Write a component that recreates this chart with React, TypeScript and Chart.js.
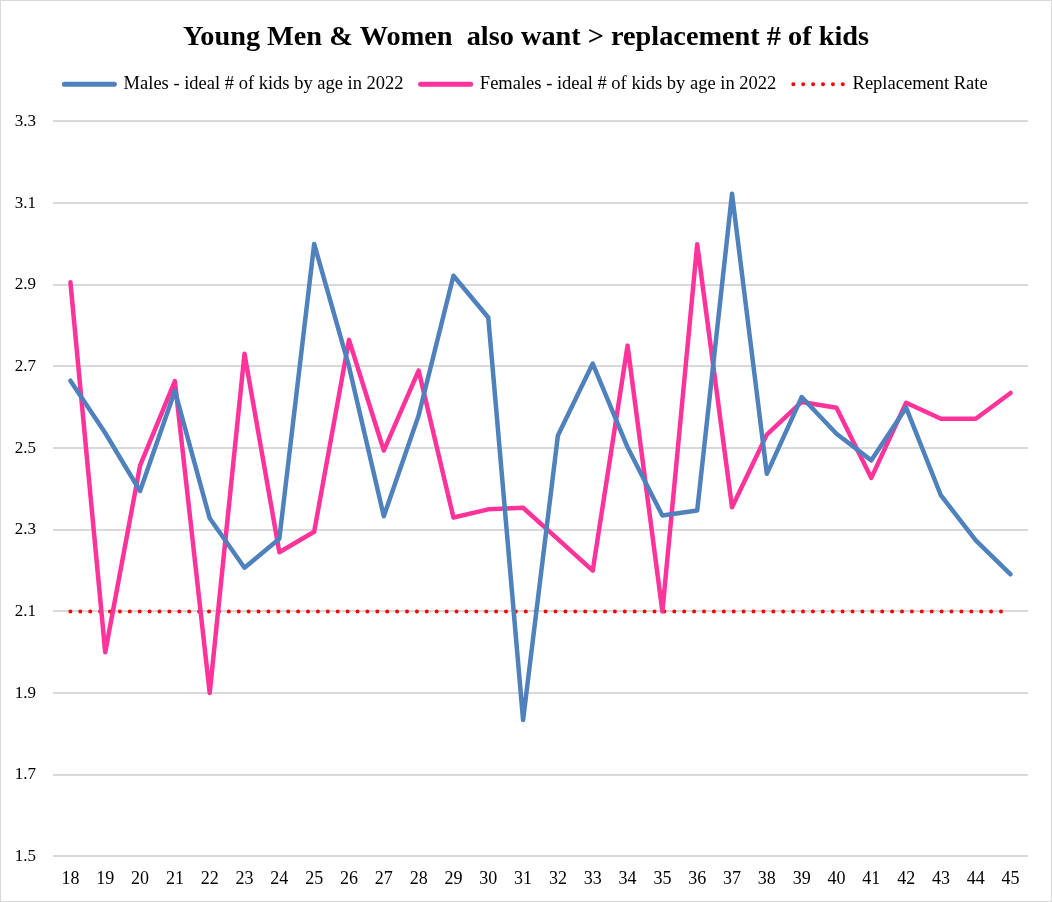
import React, { useEffect, useRef } from "react";
import { Chart, registerables } from "chart.js";

Chart.register(...registerables);

const ages = [
  "18", "19", "20", "21", "22", "23", "24", "25", "26", "27", "28", "29", "30", "31",
  "32", "33", "34", "35", "36", "37", "38", "39", "40", "41", "42", "43", "44", "45",
];

const males = [
  2.665, 2.537, 2.395, 2.64, 2.328, 2.207, 2.278, 3.0, 2.7, 2.333, 2.58, 2.922, 2.82, 1.834,
  2.531, 2.707, 2.502, 2.335, 2.347, 3.123, 2.437, 2.625, 2.535, 2.47, 2.599, 2.384, 2.274, 2.191,
];

const females = [
  2.906, 2.0, 2.457, 2.664, 1.9, 2.731, 2.245, 2.295, 2.765, 2.494, 2.69, 2.33, 2.35, 2.354,
  2.277, 2.2, 2.751, 2.1, 2.999, 2.355, 2.533, 2.613, 2.599, 2.427, 2.611, 2.572, 2.572, 2.635,
];

const replacement = ages.map(() => 2.1);

const seriesLabels = [
  "Males - ideal # of kids by age in 2022",
  "Females - ideal # of kids by age in 2022",
  "Replacement Rate",
];

const seriesColors = ["#4f81bd", "#ff3399", "#ff0000"];

const titleText = "Young Men & Women  also want > replacement # of kids";

const yMin = 1.5;
const yMax = 3.3;
const yStep = 0.2;

const FONT = "'Liberation Serif', 'Times New Roman', serif";
const DOTS = [0, 9.9];

const framePlugin = {
  id: "frame",
  beforeDraw(chart: any) {
    const { ctx, width, height } = chart;
    ctx.save();
    ctx.fillStyle = "#ffffff";
    ctx.fillRect(0, 0, width, height);
    ctx.strokeStyle = "#d9d9d9";
    ctx.lineWidth = 1;
    ctx.strokeRect(0.5, 0.5, width - 1, height - 1);
    ctx.restore();
  },
};

const headerPlugin = {
  id: "headerLayout",
  beforeLayout(chart: any) {
    const lg = chart.legend;
    if (lg && !lg.__gapPatched) {
      const origFit = lg.fit;
      lg.fit = function (this: any) {
        origFit.call(this);
        this.height += 18;
      };
      lg.__gapPatched = true;
    }
  },
  afterLayout(chart: any) {
    const boxes = [chart.titleBlock, chart.legend];
    for (const b of boxes) {
      if (b) {
        b.left = 0;
        b.right = chart.width;
      }
    }
  },
};

export default function App() {
  const ref = useRef<HTMLCanvasElement | null>(null);

  useEffect(() => {
    if (!ref.current) return;
    const chart = new Chart(ref.current, {
      type: "line",
      data: {
        labels: ages,
        datasets: [
          {
            label: seriesLabels[0],
            data: males,
            borderColor: seriesColors[0],
            backgroundColor: seriesColors[0],
            borderWidth: 4.5,
            pointRadius: 0,
            borderJoinStyle: "round",
            borderCapStyle: "round",
            tension: 0,
          },
          {
            label: seriesLabels[1],
            data: females,
            borderColor: seriesColors[1],
            backgroundColor: seriesColors[1],
            borderWidth: 4.5,
            pointRadius: 0,
            borderJoinStyle: "round",
            borderCapStyle: "round",
            tension: 0,
          },
          {
            label: seriesLabels[2],
            data: replacement,
            borderColor: seriesColors[2],
            backgroundColor: seriesColors[2],
            borderWidth: 4,
            borderDash: DOTS,
            borderCapStyle: "round",
            pointRadius: 0,
            tension: 0,
          },
        ],
      },
      options: {
        animation: false,
        responsive: true,
        maintainAspectRatio: false,
        layout: { padding: { left: 8, right: 24, top: 0, bottom: 0 } },
        plugins: {
          title: {
            display: true,
            text: titleText,
            color: "#000000",
            font: { family: FONT, size: 28.3, weight: "bold" },
            padding: { top: 21, bottom: 3 },
          },
          legend: {
            display: true,
            position: "top",
            labels: {
              usePointStyle: true,
              pointStyleWidth: 50,
              boxHeight: 5,
              color: "#000000",
              font: { family: FONT, size: 18.5 },
              padding: 17,
              generateLabels: (c: any) =>
                c.data.datasets.map((ds: any, i: number) => ({
                  text: ds.label,
                  fillStyle: seriesColors[i],
                  strokeStyle: seriesColors[i],
                  lineWidth: i === 2 ? 4 : 5,
                  lineCap: "round",
                  lineDash: i === 2 ? DOTS : [],
                  pointStyle: "line",
                  hidden: false,
                  datasetIndex: i,
                  fontColor: "#000000",
                })),
            },
          },
          tooltip: { enabled: false },
        },
        scales: {
          x: {
            offset: true,
            grid: { display: false, drawTicks: false },
            border: { display: false },
            ticks: {
              color: "#000000",
              font: { family: FONT, size: 18 },
              padding: 12,
              autoSkip: false,
              maxRotation: 0,
            },
          },
          y: {
            min: yMin,
            max: yMax,
            afterFit: (s: any) => {
              s.width = 45;
            },
            grid: { color: "#d9d9d9", lineWidth: 2, drawTicks: false },
            border: { display: false },
            ticks: {
              stepSize: yStep,
              color: "#000000",
              font: { family: FONT, size: 17 },
              padding: 17,
              callback: (v: any) => Number(v).toFixed(1),
            },
          },
        },
      },
      plugins: [framePlugin, headerPlugin],
    } as any);
    return () => chart.destroy();
  }, []);

  return (
    <div style={{ position: "fixed", left: 0, top: 0, width: 1052, height: 902 }}>
      <canvas ref={ref} />
    </div>
  );
}
